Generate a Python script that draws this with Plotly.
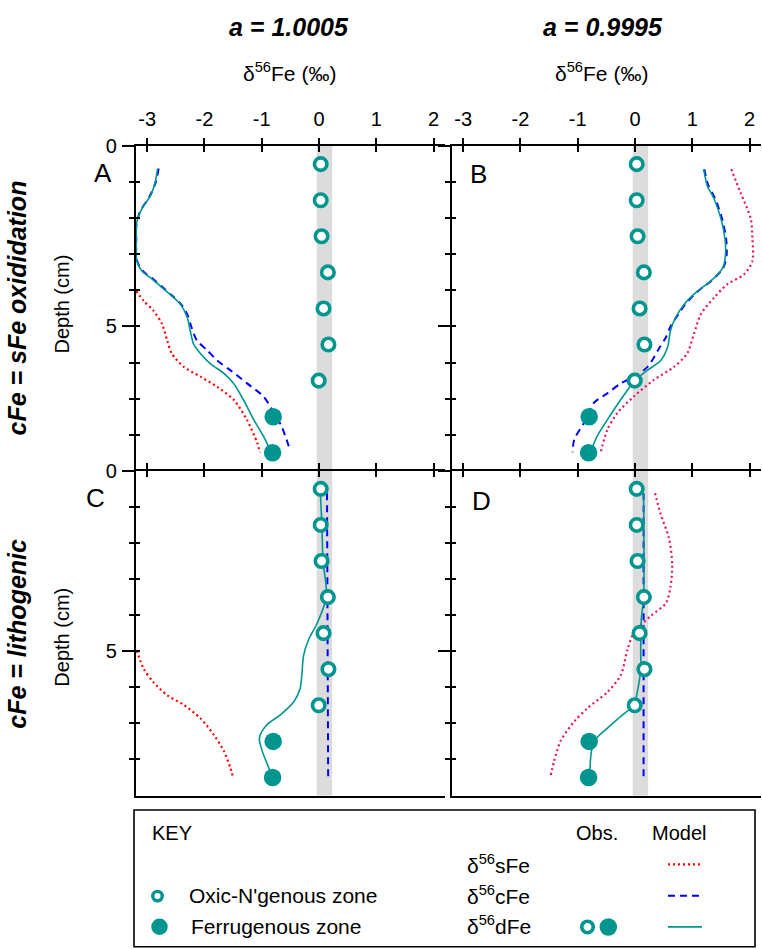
import plotly.graph_objects as go

W, H = 762, 949
FONT = "Liberation Sans, Arial, Helvetica, sans-serif"

# ---------------- data ----------------
x_ticks = [-3, -2, -1, 0, 1, 2]
x_ticktext = ["-3", "-2", "-1", "0", "1", "2"]
depth_major = [0, 5]
depth_minor = [1, 2, 3, 4, 6, 7, 8]
depth_all = [0, 1, 2, 3, 4, 5, 6, 7, 8]
x_range = [-3.2, 2.2]
depth_range = [9, 0]
band_lo, band_hi = -0.04, 0.23

oxic_depth = [0.5, 1.5, 2.5, 3.5, 4.5, 5.5, 6.5]
oxic_d56 = [0.03, 0.03, 0.045, 0.155, 0.08, 0.165, -0.005]
ferr_depth = [7.5, 8.5]
ferr_d56 = [-0.80, -0.81]

# Panel A (a = 1.0005, cFe = sFe oxidation)
A_sFe_x = [-3.19, -3.06, -2.89, -2.74, -2.65, -2.57, -2.36, -2.07, -1.78, -1.49, -1.26, -1.08, -1.03]
A_sFe_d = [4.02, 4.29, 4.56, 4.93, 5.39, 5.75, 6.12, 6.39, 6.67, 7.03, 7.58, 8.22, 8.49]
A_cFe_x = [-2.80, -2.85, -2.96, -3.12, -3.19, -3.19, -3.19, -3.16, -3.05, -2.90, -2.74, -2.56, -2.40,
           -2.29, -2.23, -2.13, -1.95, -1.78, -1.55, -1.26, -0.97, -0.79, -0.65, -0.50]
A_cFe_d = [0.62, 1.0, 1.4, 1.8, 2.2, 2.6, 3.0, 3.25, 3.5, 3.68, 3.9, 4.15, 4.4,
           4.7, 5.0, 5.39, 5.66, 5.94, 6.21, 6.57, 6.94, 7.38, 7.78, 8.45]
A_dFe_x = [-2.82, -2.86, -2.94, -3.09, -3.18, -3.19, -3.19, -3.18, -3.09, -2.94, -2.77, -2.60, -2.42,
           -2.30, -2.25, -2.19, -2.07, -1.90, -1.66, -1.49, -1.32, -1.14, -0.97, -0.86]
A_dFe_d = [0.64, 1.0, 1.37, 1.73, 2.10, 2.56, 3.01, 3.19, 3.47, 3.65, 3.88, 4.11, 4.38,
           4.75, 5.11, 5.48, 5.75, 6.03, 6.30, 6.58, 7.03, 7.58, 8.04, 8.40]

# Panel B (a = 0.9995, cFe = sFe oxidation)
B_sFe_x = [1.68, 1.84, 2.02, 2.05, 2.05, 1.90, 1.61, 1.38, 1.15, 1.03, 0.91, 0.68, 0.33, -0.02, -0.31, -0.48, -0.60]
B_sFe_d = [0.64, 1.28, 2.01, 2.56, 3.19, 3.56, 3.83, 4.20, 4.66, 5.20, 5.75, 6.12, 6.48, 6.94, 7.40, 7.85, 8.49]
B_cFe_x = [1.21, 1.28, 1.40, 1.52, 1.59, 1.60, 1.54, 1.33, 1.10, 0.88, 0.72, 0.62, 0.54, 0.42, 0.22,
           -0.02, -0.25, -0.48, -0.72, -0.89, -1.06, -1.09]
B_cFe_d = [0.64, 1.09, 1.46, 2.01, 2.56, 3.01, 3.38, 3.74, 4.02, 4.38, 4.75, 5.0, 5.30, 5.61, 6.12,
           6.39, 6.58, 6.85, 7.12, 7.67, 8.13, 8.49]
B_dFe_x = [1.20, 1.26, 1.38, 1.50, 1.57, 1.58, 1.53, 1.32, 1.09, 0.86, 0.71, 0.62, 0.57, 0.45, 0.22,
           0.01, -0.25, -0.48, -0.66, -0.77]
B_dFe_d = [0.64, 1.09, 1.46, 2.01, 2.56, 3.01, 3.38, 3.74, 4.02, 4.38, 4.75, 5.11, 5.57, 5.94, 6.21,
           6.48, 7.03, 7.58, 8.04, 8.45]

# Panel C (a = 1.0005, cFe = lithogenic)
C_sFe_x = [-3.18, -3.06, -2.89, -2.65, -2.36, -2.07, -1.84, -1.66, -1.55, -1.50]
C_sFe_d = [4.99, 5.49, 5.86, 6.22, 6.49, 6.86, 7.31, 7.77, 8.22, 8.50]
C_cFe_x = [0.14, 0.16]
C_cFe_d = [0.62, 8.50]
C_dFe_x = [0.02, 0.05, 0.07, 0.13, -0.03, -0.18, -0.27, -0.30, -0.33, -0.44, -0.68, -0.91, -1.04, -0.99, -0.88, -0.82]
C_dFe_d = [0.50, 1.48, 2.49, 3.49, 4.22, 4.67, 5.13, 5.67, 6.04, 6.40, 6.77, 7.04, 7.40, 7.77, 8.22, 8.45]

# Panel D (a = 0.9995, cFe = lithogenic)
D_sFe_x = [0.35, 0.45, 0.59, 0.65, 0.62, 0.54, 0.27, -0.02, -0.13, -0.25, -0.48, -0.83, -1.06, -1.30, -1.41, -1.48]
D_sFe_d = [0.62, 1.21, 1.85, 2.58, 3.21, 3.67, 4.03, 4.49, 4.95, 5.67, 6.13, 6.58, 6.95, 7.49, 8.04, 8.50]
D_cFe_x = [0.15, 0.15]
D_cFe_d = [0.62, 8.50]
D_dFe_x = [0.15, 0.15, 0.11, 0.10, 0.10, 0.04, -0.02, -0.25, -0.48, -0.69, -0.76, -0.79]
D_dFe_d = [0.62, 3.49, 4.13, 4.95, 5.50, 6.13, 6.49, 6.81, 7.13, 7.45, 7.77, 8.45]

col_titles = ["a = 1.0005", "a = 0.9995"]
row_titles = ["cFe = sFe oxididation", "cFe = lithogenic"]
panel_letters = ["A", "B", "C", "D"]

# ---------------- styles ----------------
TEAL = "#00968f"
BLUE = "#0000ff"
RED = "#ff0000"
PINK = "#e5175f"
GRAY = "#dcdcdc"


def fx(px):
    return px / W


def fy(py):
    return 1 - py / H


XA = [fx(135.7), fx(445.0)]
XB = [fx(451.7), fx(761.0)]
YT = [fy(465.2), fy(136.7)]
YB = [fy(793.7), fy(465.2)]

fig = go.Figure()

panels = [
    ("A", "x", "y", "x5", "y5", (A_sFe_x, A_sFe_d), (A_cFe_x, A_cFe_d), (A_dFe_x, A_dFe_d), RED),
    ("B", "x2", "y2", "x6", "y6", (B_sFe_x, B_sFe_d), (B_cFe_x, B_cFe_d), (B_dFe_x, B_dFe_d), PINK),
    ("C", "x3", "y3", "x7", "y7", (C_sFe_x, C_sFe_d), (C_cFe_x, C_cFe_d), (C_dFe_x, C_dFe_d), RED),
    ("D", "x4", "y4", "x8", "y8", (D_sFe_x, D_sFe_d), (D_cFe_x, D_cFe_d), (D_dFe_x, D_dFe_d), PINK),
]

shapes = []
for name, xa, ya, xo, yo, s, c, d, scol in panels:
    shapes.append(dict(type="rect", xref=xa, yref=ya + " domain", x0=band_lo, x1=band_hi, y0=0, y1=1,
                       fillcolor=GRAY, line=dict(width=0), layer="below"))
    fig.add_trace(go.Scatter(x=s[0], y=s[1], xaxis=xa, yaxis=ya, mode="lines",
                             line=dict(color=scol, width=2.2, dash="2px,3px", shape="spline", smoothing=0.8),
                             showlegend=False, hoverinfo="skip"))
    fig.add_trace(go.Scatter(x=c[0], y=c[1], xaxis=xa, yaxis=ya, mode="lines",
                             line=dict(color=BLUE, width=2, dash="7px,5px", shape="spline", smoothing=0.8),
                             showlegend=False, hoverinfo="skip"))
    fig.add_trace(go.Scatter(x=d[0], y=d[1], xaxis=xa, yaxis=ya, mode="lines",
                             line=dict(color=TEAL, width=1.6, shape="spline", smoothing=0.8),
                             showlegend=False, hoverinfo="skip"))
    fig.add_trace(go.Scatter(x=oxic_d56, y=oxic_depth, xaxis=xa, yaxis=ya, mode="markers",
                             marker=dict(symbol="circle", size=12.5, color="white",
                                         line=dict(color=TEAL, width=3.6)),
                             showlegend=False, hoverinfo="skip", cliponaxis=False))
    fig.add_trace(go.Scatter(x=ferr_d56, y=ferr_depth, xaxis=xa, yaxis=ya, mode="markers",
                             marker=dict(symbol="circle", size=17.5, color=TEAL, line=dict(width=0)),
                             showlegend=False, hoverinfo="skip", cliponaxis=False))
    fig.add_trace(go.Scatter(x=[None], y=[None], xaxis=xo, yaxis=yo, mode="markers",
                             showlegend=False, hoverinfo="skip"))

fig.add_trace(go.Scatter(x=[None], y=[None], xaxis="x9", yaxis="y3", mode="markers", showlegend=False, hoverinfo="skip"))
fig.add_trace(go.Scatter(x=[None], y=[None], xaxis="x10", yaxis="y4", mode="markers", showlegend=False, hoverinfo="skip"))

tickfont = dict(family=FONT, size=20, color="black")


def main_x(domain, anchor, labels):
    return dict(domain=domain, anchor=anchor, side="top", range=x_range, showline=True,
                linecolor="black", linewidth=1.8, ticks="outside", ticklen=6, tickwidth=1.6,
                tickcolor="black", tickmode="array", tickvals=x_ticks, ticktext=x_ticktext,
                showticklabels=labels, tickfont=tickfont, showgrid=False, zeroline=False,
                ticklabelstandoff=4, fixedrange=True)


def over_x(overlay, anchor):
    return dict(overlaying=overlay, anchor=anchor, side="top", range=x_range, showline=False,
                ticks="inside", ticklen=6, tickwidth=1.6, tickcolor="black", tickmode="array",
                tickvals=x_ticks, showticklabels=False, showgrid=False, zeroline=False, fixedrange=True)


def main_y(domain, anchor, labels):
    return dict(domain=domain, anchor=anchor, side="left", range=depth_range, showline=True,
                linecolor="black", linewidth=1.8, ticks="outside", ticklen=12, tickwidth=1.6,
                tickcolor="black", tickmode="array", tickvals=depth_major,
                minor=dict(tickmode="array", tickvals=depth_minor, ticks="outside", ticklen=5,
                           tickwidth=1.6, tickcolor="black", showgrid=False),
                showticklabels=labels, tickfont=tickfont, showgrid=False, zeroline=False,
                ticklabelstandoff=1, fixedrange=True)


def over_y(overlay, anchor):
    return dict(overlaying=overlay, anchor=anchor, side="left", range=depth_range, showline=False,
                ticks="inside", ticklen=4, tickwidth=1.6, tickcolor="black", tickmode="array",
                tickvals=depth_all, showticklabels=False, showgrid=False, zeroline=False, fixedrange=True)


def bottom_x(overlay, anchor):
    return dict(overlaying=overlay, anchor=anchor, side="bottom", range=x_range, showline=True,
                linecolor="black", linewidth=1.8, ticks="", showticklabels=False, showgrid=False,
                zeroline=False, fixedrange=True)


layout_axes = dict(
    xaxis=main_x(XA, "y", True), yaxis=main_y(YT, "x", True),
    xaxis2=main_x(XB, "y2", True), yaxis2=main_y(YT, "x2", False),
    xaxis3=main_x(XA, "y3", False), yaxis3=main_y(YB, "x3", True),
    xaxis4=main_x(XB, "y4", False), yaxis4=main_y(YB, "x4", False),
    xaxis5=over_x("x", "y"), yaxis5=over_y("y", "x"),
    xaxis6=over_x("x2", "y2"), yaxis6=over_y("y2", "x2"),
    xaxis7=over_x("x3", "y3"), yaxis7=over_y("y3", "x3"),
    xaxis8=over_x("x4", "y4"), yaxis8=over_y("y4", "x4"),
    xaxis9=bottom_x("x3", "y3"), xaxis10=bottom_x("x4", "y4"),
)

# ---------------- key (legend box) ----------------
KEY_X = [134, 755]
KEY_Y = [808.3, 946.7]
layout_axes["xaxis11"] = dict(domain=[fx(KEY_X[0]), fx(KEY_X[1])], anchor="y11", range=KEY_X,
                              visible=False, fixedrange=True)
layout_axes["yaxis11"] = dict(domain=[fy(KEY_Y[1]), fy(KEY_Y[0])], anchor="x11",
                              range=[KEY_Y[1], KEY_Y[0]], visible=False, fixedrange=True)

shapes.append(dict(type="rect", xref="paper", yref="paper", x0=fx(KEY_X[0]), x1=fx(KEY_X[1]),
                   y0=fy(KEY_Y[1]), y1=fy(KEY_Y[0]), line=dict(color="black", width=1.6),
                   fillcolor="rgba(0,0,0,0)"))

fig.add_trace(go.Scatter(x=[157.5], y=[895.5], xaxis="x11", yaxis="y11", mode="markers",
                         marker=dict(symbol="circle", size=9.5, color="white", line=dict(color=TEAL, width=3.4)),
                         showlegend=False, hoverinfo="skip", cliponaxis=False))
fig.add_trace(go.Scatter(x=[159.5], y=[926.5], xaxis="x11", yaxis="y11", mode="markers",
                         marker=dict(symbol="circle", size=16.5, color=TEAL),
                         showlegend=False, hoverinfo="skip", cliponaxis=False))
fig.add_trace(go.Scatter(x=[587.5], y=[926.7], xaxis="x11", yaxis="y11", mode="markers",
                         marker=dict(symbol="circle", size=11.5, color="white", line=dict(color=TEAL, width=3.6)),
                         showlegend=False, hoverinfo="skip", cliponaxis=False))
fig.add_trace(go.Scatter(x=[608.3], y=[926.7], xaxis="x11", yaxis="y11", mode="markers",
                         marker=dict(symbol="circle", size=17.5, color=TEAL),
                         showlegend=False, hoverinfo="skip", cliponaxis=False))
fig.add_trace(go.Scatter(x=[668, 702], y=[863.3, 863.3], xaxis="x11", yaxis="y11", mode="lines",
                         line=dict(color=RED, width=2.2, dash="2px,3px"), showlegend=False, hoverinfo="skip"))
fig.add_trace(go.Scatter(x=[668, 702], y=[895, 895], xaxis="x11", yaxis="y11", mode="lines",
                         line=dict(color=BLUE, width=2, dash="7px,5px"), showlegend=False, hoverinfo="skip"))
fig.add_trace(go.Scatter(x=[668, 702], y=[926.7, 926.7], xaxis="x11", yaxis="y11", mode="lines",
                         line=dict(color=TEAL, width=1.8), showlegend=False, hoverinfo="skip"))

# ---------------- text ----------------
ann = []


def text(s, px, py, size, xanchor="center", angle=0):
    ann.append(dict(text=s, x=fx(px), y=fy(py), xref="paper", yref="paper", showarrow=False,
                    xanchor=xanchor, yanchor="middle", textangle=angle,
                    font=dict(family=FONT, size=size, color="black")))


text("<b><i>%s</i></b>" % col_titles[0], 289, 16, 25)
text("<b><i>%s</i></b>" % col_titles[1], 603, 16, 25)
text("δ<sup>56</sup>Fe (‰)", 289, 62, 21)
text("δ<sup>56</sup>Fe (‰)", 601, 62, 21)
text("<b><i>%s</i></b>" % row_titles[0], 17, 301, 25, angle=-90)
text("<b><i>%s</i></b>" % row_titles[1], 17, 630, 25, angle=-90)
text("Depth (cm)", 62, 297, 20, angle=-90)
text("Depth (cm)", 62, 634, 20, angle=-90)
text(panel_letters[0], 103, 164, 26)
text(panel_letters[1], 478, 165, 26)
text(panel_letters[2], 95, 493, 26)
text(panel_letters[3], 482, 496, 26)

text("KEY", 150, 832, 20, xanchor="left")
text("Obs.", 597, 832, 20)
text("Model", 679, 832, 20)
text("Oxic-N'genous zone", 187, 895, 21, xanchor="left")
text("Ferrugenous zone", 189, 926, 21, xanchor="left")
text("δ<sup>56</sup>sFe", 465, 863, 21, xanchor="left")
text("δ<sup>56</sup>cFe", 465, 894, 21, xanchor="left")
text("δ<sup>56</sup>dFe", 465, 925, 21, xanchor="left")

fig.update_layout(
    width=W, height=H, margin=dict(l=0, r=0, t=0, b=0),
    paper_bgcolor="white", plot_bgcolor="rgba(0,0,0,0)",
    showlegend=False, shapes=shapes, annotations=ann,
    font=dict(family=FONT, color="black"),
    **layout_axes,
)

fig.write_html("out.html", config={"displayModeBar": False},
               post_script="document.body.style.margin='0px';")
